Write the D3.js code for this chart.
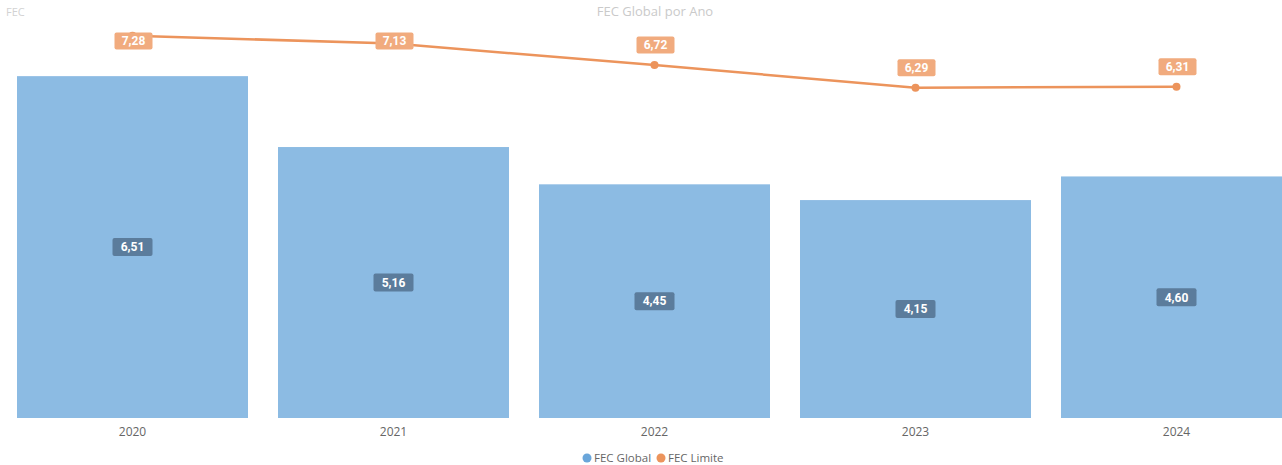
<!DOCTYPE html>
<html>
<head>
<meta charset="utf-8">
<script src="https://cdn.jsdelivr.net/npm/d3@7"></script>
<style>
  body { margin: 0; background: #fff; overflow: hidden; }
  svg { display: block; font-family: "Open Sans", "Noto Sans", sans-serif; }
</style>
</head>
<body>
<div id="chart"></div>
<script>
(function(){
    // data
    var years = ["2020", "2021", "2022", "2023", "2024"];
    var fecGlobal = [6.51, 5.16, 4.45, 4.15, 4.60];
    var fecLimite = [7.28, 7.13, 6.72, 6.29, 6.31];
    var seriesNames = ["FEC Global", "FEC Limite"];

    var width = 1282, height = 465;
    var blue = "#8cbbe3", orange = "#ec945c";

    var fmt = function (v) { return d3.format(".2f")(v).replace(".", ","); };

    var svg = d3.select("#chart").append("svg")
        .attr("width", width)
        .attr("height", height);

    // chart is cropped on the right, so the band range runs past the window
    var x = d3.scaleBand()
        .domain(years)
        .range([2, 1307])
        .paddingInner(0.115)
        .paddingOuter(0.0575);

    var y = d3.scaleLinear()
        .domain([0, 7.96])
        .range([418, 0]);

    // faint title / axis title
    svg.append("text")
        .attr("x", 655).attr("y", 16)
        .attr("text-anchor", "middle")
        .style("font-size", "13px")
        .style("fill", "#cacaca")
        .text("FEC Global por Ano");
    svg.append("text")
        .attr("x", 6).attr("y", 16)
        .style("font-size", "11px")
        .style("fill", "#d2d2d2")
        .text("FEC");

    // bars
    svg.append("g").selectAll("rect")
        .data(fecGlobal)
        .join("rect")
        .attr("x", function (d, i) { return x(years[i]); })
        .attr("y", function (d) { return y(d); })
        .attr("width", x.bandwidth())
        .attr("height", function (d) { return y(0) - y(d); })
        .attr("fill", blue);

    // bar labels
    var barLab = svg.append("g").selectAll("g")
        .data(fecGlobal)
        .join("g")
        .attr("transform", function (d, i) {
            return "translate(" + (x(years[i]) + x.bandwidth() / 2) + "," + ((y(d) + y(0)) / 2) + ")";
        });
    barLab.append("rect")
        .attr("x", -20).attr("y", -9)
        .attr("width", 40).attr("height", 18)
        .attr("rx", 2)
        .attr("fill", "#5b7c9c");
    barLab.append("text")
        .attr("text-anchor", "middle")
        .attr("dy", "0.36em")
        .style("font-family", "Roboto, sans-serif")
        .style("font-weight", 700)
        .style("font-size", "12px")
        .style("fill", "#fff")
        .text(fmt);

    // line
    var line = d3.line()
        .x(function (d, i) { return x(years[i]) + x.bandwidth() / 2; })
        .y(function (d) { return y(d); });

    svg.append("path")
        .datum(fecLimite)
        .attr("d", line)
        .attr("fill", "none")
        .attr("stroke", orange)
        .attr("stroke-width", 2.5);

    svg.append("g").selectAll("circle")
        .data(fecLimite)
        .join("circle")
        .attr("cx", function (d, i) { return x(years[i]) + x.bandwidth() / 2; })
        .attr("cy", function (d) { return y(d); })
        .attr("r", 4)
        .attr("fill", orange);

    // line labels (kept inside the top edge)
    var lineLab = svg.append("g").selectAll("g")
        .data(fecLimite)
        .join("g")
        .attr("transform", function (d, i) {
            var cy = Math.max(y(d) - 20, 41);
            return "translate(" + (x(years[i]) + x.bandwidth() / 2 + 1) + "," + cy + ")";
        });
    lineLab.append("rect")
        .attr("x", -19).attr("y", -8.5)
        .attr("width", 38).attr("height", 17)
        .attr("rx", 2)
        .attr("fill", "#f1ab7e");
    lineLab.append("text")
        .attr("text-anchor", "middle")
        .attr("dy", "0.36em")
        .style("font-family", "Roboto, sans-serif")
        .style("font-weight", 700)
        .style("font-size", "12px")
        .style("fill", "#fff")
        .text(fmt);

    // x axis labels
    var xAxis = svg.append("g")
        .attr("transform", "translate(0,427)")
        .call(d3.axisBottom(x).tickSize(0).tickPadding(0));
    xAxis.select(".domain").remove();
    xAxis.selectAll("text")
        .attr("dy", "0.75em")
        .style("font-family", "Open Sans, sans-serif")
        .style("font-size", "12px")
        .style("fill", "#666");

    // legend
    var legend = svg.append("g").attr("transform", "translate(587,458)");
    var lx = [0, 74];
    var item = legend.selectAll("g")
        .data(seriesNames)
        .join("g")
        .attr("transform", function (d, i) { return "translate(" + lx[i] + ",0)"; });
    item.append("circle")
        .attr("r", 4.5)
        .attr("fill", function (d, i) { return i === 0 ? "#6aa6da" : orange; });
    item.append("text")
        .attr("x", 7)
        .attr("dy", "0.35em")
        .style("font-size", "11.5px")
        .style("fill", "#666")
        .text(function (d) { return d; });
})();
</script>
</body>
</html>
